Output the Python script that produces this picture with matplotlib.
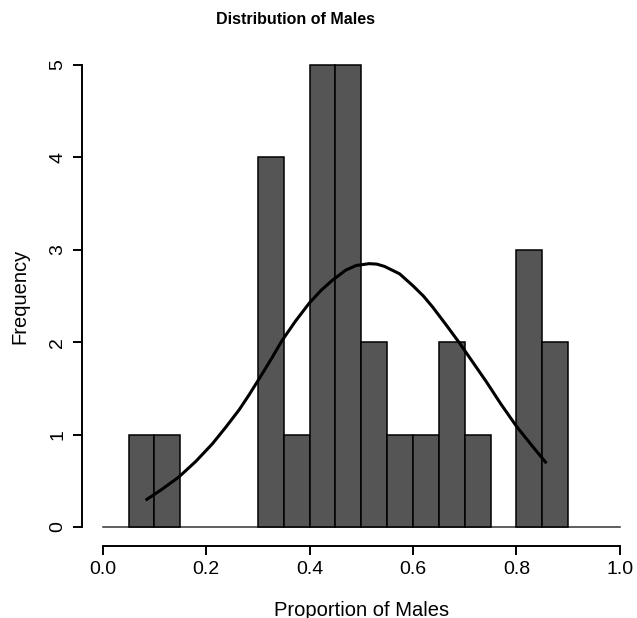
import numpy as np
import matplotlib
matplotlib.use('Agg')
import matplotlib.pyplot as plt

plt.rcParams['font.family'] = ['Liberation Sans', 'DejaVu Sans']

# histogram bins (left edges) and counts
bin_left = [0.05, 0.10, 0.15, 0.20, 0.25, 0.30, 0.35, 0.40, 0.45, 0.50,
            0.55, 0.60, 0.65, 0.70, 0.75, 0.80, 0.85]
counts = [1, 1, 0, 0, 0, 4, 1, 5, 5, 2, 1, 1, 2, 1, 0, 3, 2]
bin_width = 0.05

# fitted curve
curve_x = [0.083, 0.115, 0.147, 0.180, 0.212, 0.238, 0.264, 0.283, 0.302, 0.325,
           0.347, 0.373, 0.399, 0.422, 0.444, 0.470, 0.490, 0.515, 0.530, 0.545,
           0.574, 0.600, 0.620, 0.638, 0.665, 0.690, 0.716, 0.742, 0.770, 0.800,
           0.830, 0.858]
curve_y = [0.29, 0.41, 0.54, 0.71, 0.90, 1.08, 1.27, 1.43, 1.60, 1.81,
           2.02, 2.23, 2.42, 2.56, 2.67, 2.78, 2.83, 2.85, 2.845, 2.82,
           2.74, 2.61, 2.50, 2.38, 2.18, 1.99, 1.78, 1.57, 1.33, 1.09,
           0.88, 0.69]

xticks = [0.0, 0.2, 0.4, 0.6, 0.8, 1.0]
yticks = [0, 1, 2, 3, 4, 5]

W, H = 637, 618
fig = plt.figure(figsize=(W / 100, H / 100), dpi=100)
left, right, top, bottom = 82, 640.6, 46.5, 545.5
ax = fig.add_axes([left / W, (H - bottom) / H, (right - left) / W, (bottom - top) / H])

# empty bins leave only the baseline
bl = [b for b, c in zip(bin_left, counts) if c > 0]
bc = [c for c in counts if c > 0]
ax.bar(bl, bc, width=bin_width, align='edge',
       color='#555555', edgecolor='black', linewidth=1.1, zorder=2)
ax.plot([0, 1], [0, 0], color='#333333', lw=1.1, zorder=1)
ax.plot(curve_x, curve_y, color='black', lw=2.2, solid_capstyle='butt',
        solid_joinstyle='round', zorder=3)

ax.set_xlim(-0.04, 1.04)
ax.set_ylim(-0.2, 5.2)
for s in ['top', 'right']:
    ax.spines[s].set_visible(False)
ax.spines['left'].set_bounds(0, 5)
ax.spines['bottom'].set_bounds(0, 1)
for s in ['left', 'bottom']:
    ax.spines[s].set_linewidth(1.4)

ax.set_xticks(xticks)
ax.set_xticklabels([f"{v:.1f}" for v in xticks])
ax.set_yticks(yticks)
ax.set_yticklabels([str(v) for v in yticks], rotation=90, va='center')
ax.tick_params(length=6.5, width=1.4, labelsize=14, pad=5)

fig.text(20 / W, 1 - 296 / H, "Frequency", rotation=90, ha='center', va='center', fontsize=14.5)
fig.text(362 / W, 1 - 610 / H, "Proportion of Males", ha='center', va='center', fontsize=14.5)
fig.text(296 / W, 1 - 20 / H, "Distribution of Males", ha='center', va='center',
         fontsize=11.5, fontweight='bold')

fig.savefig("out.png", dpi=100)
